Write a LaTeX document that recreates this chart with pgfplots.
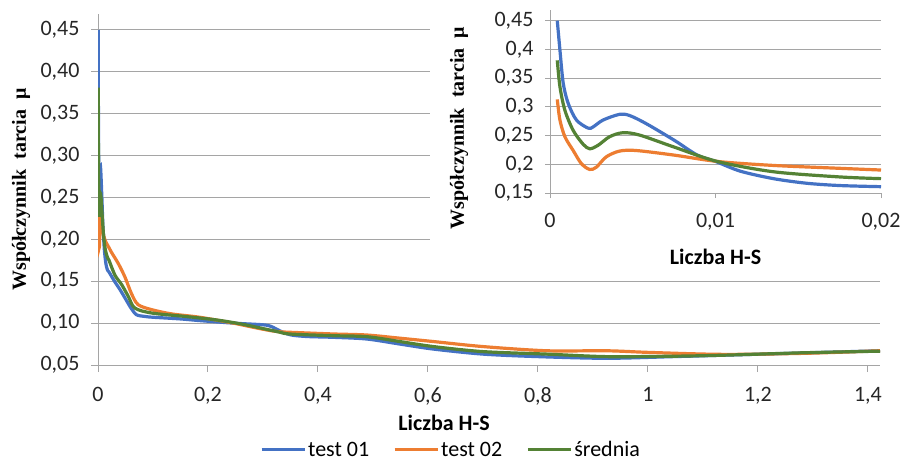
\documentclass[border=0pt]{standalone}
\usepackage{pgfplots}
\pgfplotsset{compat=1.18}
\usepackage{pgfplotstable}
\usepackage{fontspec}
\setmainfont{Carlito}
\newfontfamily\tnr{Liberation Serif}

\definecolor{cblue}{RGB}{68,114,196}
\definecolor{corange}{RGB}{237,125,49}
\definecolor{cgreen}{RGB}{84,130,53}
\definecolor{cgrid}{RGB}{165,165,165}

\newcommand\fs{\fontsize{22}{26}\selectfont}
\newcommand\fl{\fontsize{20}{24}\selectfont}

% Liczba H-S, wspolczynnik tarcia
\pgfplotstableread{
x y
0.00044 0.450
0.0006 0.399
0.0008 0.341
0.0011 0.306
0.0016 0.277
0.0023 0.263
0.0026 0.265
0.0032 0.277
0.0042 0.287
0.0048 0.285
0.0058 0.271
0.0075 0.242
0.0089 0.216
0.0100 0.205
0.0115 0.188
0.0135 0.175
0.0155 0.167
0.0175 0.163
0.0200 0.161
0.030 0.150
0.040 0.140
0.050 0.129
0.060 0.118
0.070 0.110
0.085 0.108
0.100 0.107
0.150 0.105
0.185 0.103
0.246 0.100
0.300 0.098
0.315 0.096
0.330 0.091
0.350 0.086
0.380 0.084
0.430 0.083
0.489 0.081
0.549 0.075
0.610 0.069
0.700 0.063
0.800 0.060
0.925 0.058
1.046 0.060
1.137 0.0617
1.288 0.0645
1.422 0.067
}\testA

\pgfplotstableread{
x y
0.00044 0.313
0.0006 0.277
0.0009 0.248
0.0014 0.224
0.0019 0.201
0.0024 0.191
0.0028 0.195
0.0034 0.213
0.0042 0.223
0.0052 0.224
0.0075 0.216
0.0101 0.205
0.0135 0.198
0.0175 0.193
0.0200 0.190
0.025 0.184
0.037 0.171
0.049 0.155
0.061 0.135
0.073 0.122
0.098 0.116
0.134 0.111
0.185 0.107
0.246 0.100
0.290 0.094
0.325 0.090
0.367 0.0886
0.430 0.087
0.489 0.0858
0.549 0.082
0.610 0.078
0.700 0.072
0.816 0.067
0.925 0.067
1.004 0.065
1.137 0.0627
1.288 0.064
1.422 0.067
}\testB

\pgfplotstableread{
x y
0.00044 0.381
0.0006 0.335
0.0009 0.294
0.0014 0.259
0.0020 0.235
0.0024 0.227
0.0029 0.233
0.0036 0.248
0.0044 0.255
0.0054 0.251
0.0075 0.230
0.0101 0.205
0.0135 0.187
0.0175 0.178
0.0200 0.175
0.031 0.157
0.043 0.146
0.055 0.132
0.067 0.118
0.098 0.112
0.158 0.108
0.213 0.104
0.260 0.099
0.325 0.090
0.349 0.087
0.428 0.085
0.489 0.0838
0.549 0.078
0.610 0.072
0.700 0.066
0.816 0.063
0.925 0.060
1.046 0.0605
1.137 0.0617
1.288 0.0647
1.422 0.0665
}\srednia

\pgfplotsset{
  excel/.style={
    scale only axis,
    axis lines*=left,
    axis line style={cgrid, line width=1pt},
    tick style={cgrid, line width=1pt},
    tick align=outside,
    major tick length=7pt,
    ymajorgrids,
    grid style={cgrid, line width=1pt},
    tick label style={font=\fs, text=black!85},
    xticklabel style={yshift=-12pt},
    yticklabel style={xshift=-8pt},
    scaled ticks=false,
    every axis plot/.append style={line width=3.2pt, smooth, tension=0.5},
  },
}

\begin{document}
\begin{tikzpicture}
\useasboundingbox (0pt,0pt) rectangle (901pt,-463pt);

\begin{axis}[
  excel,
  at={(98pt,-365pt)}, anchor=south west,
  width=782pt, height=351pt,
  xmin=0, xmax=1.422, ymin=0.05, ymax=0.469,
  xtick={0,0.2,0.4,0.6,0.8,1,1.2,1.4},
  xticklabels={0,{0,2},{0,4},{0,6},{0,8},1,{1,2},{1,4}},
  ytick={0.05,0.1,0.15,0.2,0.25,0.3,0.35,0.4,0.45},
  yticklabels={{0,05},{0,10},{0,15},{0,20},{0,25},{0,30},{0,35},{0,40},{0,45}},
  xlabel={\bfseries Liczba H-S},
  x label style={font=\fs, at={(rel axis cs:0.4425,0)}, anchor=center, yshift=-58pt},
  ylabel={\tnr\bfseries Współczynnik\ \ tarcia\ \ μ},
  y label style={font=\fl, at={([xshift=-77pt]rel axis cs:0,0.5)}, anchor=center},
  legend style={font=\fs, draw=none, fill=none, at={(rel axis cs:0.4514,-0.242)}, anchor=center,
    inner sep=0pt, legend columns=3, /tikz/every even column/.append style={column sep=22pt}},
  legend image code/.code={\draw[#1, line width=3pt] (0pt,0pt) -- (43pt,0pt);},
]
\addplot[cblue] table {\testA};
\addlegendentry{test 01}
\addplot[corange] table {\testB};
\addlegendentry{test 02}
\addplot[cgreen] table {\srednia};
\addlegendentry{średnia}
\end{axis}

\fill[white] (430pt,0pt) rectangle (901pt,-268pt);

\begin{axis}[
  excel,
  at={(550pt,-193pt)}, anchor=south west,
  width=331pt, height=183pt,
  xmin=0, xmax=0.02, ymin=0.15, ymax=0.4687,
  restrict x to domain=0:0.0201,
  xtick={0,0.01,0.02},
  xticklabels={0,{0,01},{0,02}},
  ytick={0.15,0.2,0.25,0.3,0.35,0.4,0.45},
  yticklabels={{0,15},{0,2},{0,25},{0,3},{0,35},{0,4},{0,45}},
  major tick length=5pt,
  xlabel={\bfseries Liczba H-S},
  x label style={font=\fs, at={(rel axis cs:0.5,0)}, anchor=center, yshift=-64pt},
  ylabel={\tnr\bfseries Współczynnik\ \ tarcia\ \ μ},
  y label style={font=\fl, at={([xshift=-91pt]rel axis cs:0,0.355)}, anchor=center},
]
\addplot[cblue] table {\testA};
\addplot[corange] table {\testB};
\addplot[cgreen] table {\srednia};
\end{axis}
\end{tikzpicture}
\end{document}
